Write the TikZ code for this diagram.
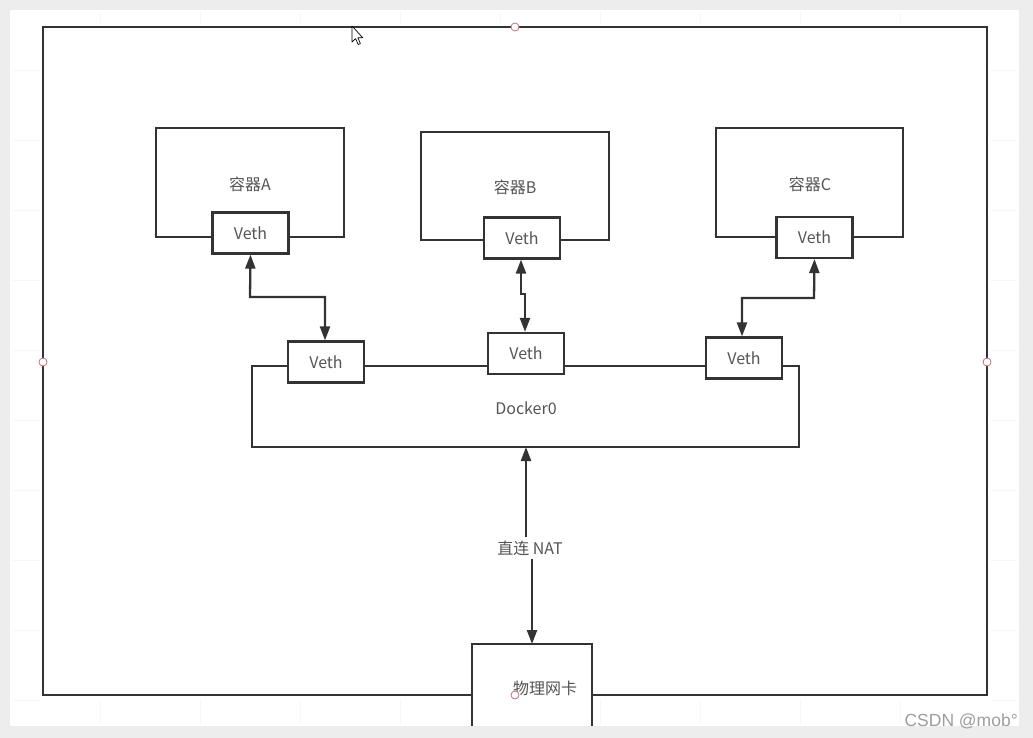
\documentclass[tikz,border=0pt]{standalone}
\usepackage{fontspec}
\setmainfont{Noto Sans CJK SC}
\newfontfamily\wmfont{Liberation Sans}
\usetikzlibrary{arrows.meta}
\definecolor{pagegray}{HTML}{EDEDED}
\definecolor{linec}{HTML}{333333}
\definecolor{textc}{HTML}{555555}
\definecolor{handle}{HTML}{C0707A}
\tikzset{
  box/.style={draw=linec, line width=2.2pt, fill=white},
  vethbox/.style={draw=linec, line width=2.2pt, fill=white, minimum width=76pt, minimum height=41pt, inner sep=0pt, font=\fontsize{16}{18}\selectfont, text=textc},
  lbl/.style={font=\fontsize{16}{18}\selectfont, text=textc, inner sep=1pt},
  tip/.style={Triangle[length=14pt,width=10pt]},
  link/.style={draw=linec, line width=2.3pt, {Triangle[length=14pt,width=10pt]}-{Triangle[length=14pt,width=10pt]}},
  hnd/.style={draw=handle, line width=0.8pt, fill=white},
}
\begin{document}
\begin{tikzpicture}[x=1pt,y=-1pt]
\useasboundingbox (0,0) rectangle (1033,738);
% page background
\fill[pagegray] (0,0) rectangle (1033,738);
\fill[white] (10,10) rectangle (1019,726);
% faint grid outside frame
\begin{scope}[draw=black!3, line width=0.6pt]
  \foreach \y in {70,140,210,280,350,420,490,560,630,700} {\draw (12,\y) -- (40,\y); \draw (990,\y) -- (1017,\y);}
  \foreach \x in {100,200,300,400,500,600,700,800,900} {\draw (\x,700) -- (\x,724); \draw (\x,12) -- (\x,25);}
\end{scope}
% outer frame
\draw[linec, line width=2.2pt] (43,27) rectangle (987,695);

% containers
\draw[box] (156,128) rectangle (344,237);
\node[lbl] (labA) at (250,184) {容器A};
\node[vethbox] (vA) at (250.5,233) {Veth};

\draw[box] (421,132) rectangle (609,240);
\node[lbl] (labB) at (515,187) {容器B};
\node[vethbox] (vB) at (522,238) {Veth};

\draw[box] (716,128) rectangle (903,237);
\node[lbl] (labC) at (810,184) {容器C};
\node[vethbox] (vC) at (814.5,237.5) {Veth};

% Docker0
\draw[box] (252,366) rectangle (799,447);
\coordinate (dockBottom) at (526,447);
\node[lbl] (dlab) at (526,408) {Docker0};
\node[vethbox] (d1) at (326,362) {Veth};
\node[vethbox] (d2) at (526,353.5) {Veth};
\node[vethbox] (d3) at (744,358) {Veth};

% links
\draw[link] (vA.south) -- (250,297) -- (325,297) -- (d1.north -| 325,0);
\draw[link] (vB.south -| 521,0) -- (521,294) -- (525,294) -- (d2.north -| 525,0);
\draw[link] (vC.south) -- (814,298) -- (742,298) -- (d3.north -| 742,0);

% physical NIC
\draw[box] (472,644) rectangle (592,740);
\node[lbl] (nic) at (545,688) {物理网卡};
\node[lbl, fill=white, inner sep=3pt] (nat) at (530,548) {直连 NAT};
\draw[draw=linec, line width=2.3pt, -{Triangle[length=14pt,width=10pt]}] (nat.north -| 526,0) -- (dockBottom);
\draw[draw=linec, line width=2.3pt, -{Triangle[length=14pt,width=10pt]}] (nat.south -| 532,0) -- (532,644);

% clip bottom with page gray
\fill[pagegray] (0,726) rectangle (1033,738);
\fill[pagegray] (1019,0) rectangle (1033,738);

% selection handles
\draw[hnd] (515,27) circle (4);
\draw[hnd] (43,362) circle (4);
\draw[hnd] (987,362) circle (4);
\draw[hnd] (515,695) circle (4);

% mouse cursor
\draw[fill=white, draw=black, line width=0.7pt, line join=round]
  (352,26) -- (352,42) -- (355.6,38.6) -- (358.2,44.5) -- (360.4,43.5) -- (357.9,37.8) -- (362.8,37.8) -- cycle;

% watermark
\node[font=\wmfont\fontsize{17.5}{18}\selectfont, text=black!38, anchor=base east, inner sep=0pt] (wm) at (1018,726) {CSDN @mob°};
\end{tikzpicture}
\end{document}
